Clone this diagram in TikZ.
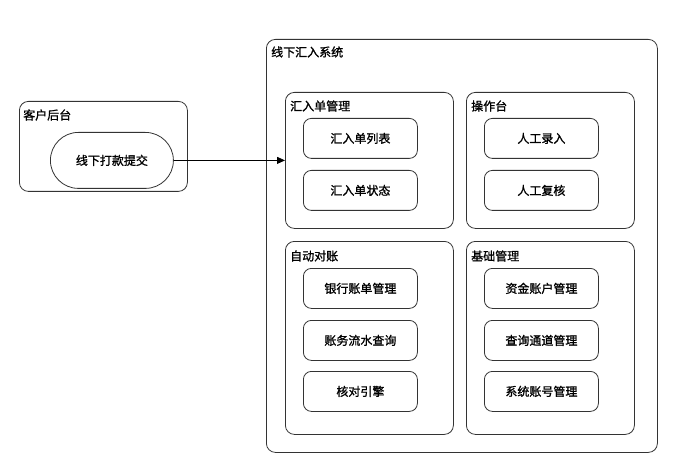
\documentclass[tikz,border=0pt]{standalone}
\usepackage{fontspec}
\newfontfamily\cjk[FakeBold=1.2]{Noto Sans CJK SC}
\usetikzlibrary{arrows.meta}
\begin{document}
\begin{tikzpicture}[x=1pt,y=-1pt,
  frame/.style={draw=black!80, line width=0.8pt, rounded corners=9pt, anchor=north west, inner sep=0pt},
  item/.style={draw=black!80, line width=0.8pt, rounded corners=8pt, anchor=north west, inner sep=0pt,
    minimum width=114pt, minimum height=40pt, font=\cjk\fontsize{12}{14}\selectfont},
  title/.style={anchor=west, inner sep=0pt, font=\cjk\fontsize{12}{14}\selectfont},
  link/.style={draw=black, line width=0.8pt, -{Triangle[length=8pt,width=7pt]}}]
\useasboundingbox (0,0) rectangle (677,465);
\fill[white] (0,0) rectangle (677,465);
% customer side
\node[frame, minimum width=168pt, minimum height=90pt] (cust) at (19,101) {};
\node[title] (custT) at (23,115) {客户后台};
\node[frame, rounded corners=28pt, minimum width=123pt, minimum height=56pt,
  font=\cjk\fontsize{12}{14}\selectfont] (submit) at (50,132) {线下打款提交};
% system
\node[frame, minimum width=391pt, minimum height=413pt] (sys) at (266,39) {};
\node[title] (sysT) at (271,52) {线下汇入系统};
\node[frame, minimum width=168pt, minimum height=136pt] (g1) at (285,92) {};
\node[title] (g1T) at (290,106) {汇入单管理};
\node[frame, minimum width=168pt, minimum height=136pt] (g2) at (466,92) {};
\node[title] (g2T) at (471,106) {操作台};
\node[frame, minimum width=168pt, minimum height=193pt] (g3) at (285,241) {};
\node[title] (g3T) at (290,256) {自动对账};
\node[frame, minimum width=168pt, minimum height=193pt] (g4) at (466,241) {};
\node[title] (g4T) at (471,256) {基础管理};
% items
\node[item] (a1) at (303,118) {汇入单列表};
\node[item] (a2) at (303,170) {汇入单状态};
\node[item] (b1) at (484,118) {人工录入};
\node[item] (b2) at (484,170) {人工复核};
\node[item] (c1) at (303,268) {银行账单管理};
\node[item] (c2) at (303,320) {账务流水查询};
\node[item] (c3) at (303,371) {核对引擎};
\node[item] (d1) at (484,268) {资金账户管理};
\node[item] (d2) at (484,320) {查询通道管理};
\node[item] (d3) at (484,371) {系统账号管理};
% connector
\draw[link] (submit.east) -- (g1.west |- submit.east);
\end{tikzpicture}
\end{document}
